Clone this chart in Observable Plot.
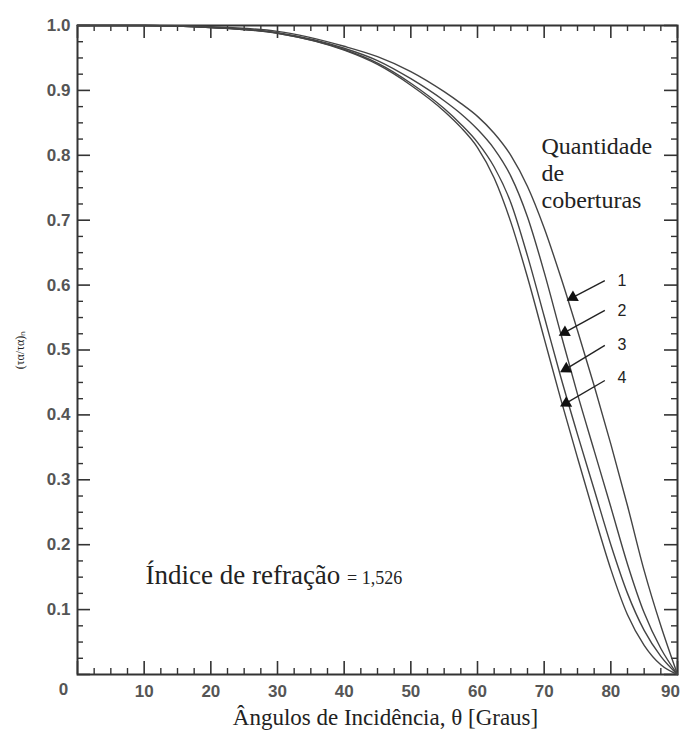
<!DOCTYPE html>
<html>
<head>
<meta charset="utf-8">
<script src="https://cdn.jsdelivr.net/npm/d3@7"></script>
<script src="https://cdn.jsdelivr.net/npm/@observablehq/plot@0.6"></script>
<style>
  body { margin: 0; background: #fff; }
</style>
</head>
<body>
<div id="chart"></div>
<script>
// Angle of incidence (degrees)
const angles = [0, 10, 20, 30, 40, 45, 50, 55, 57.5, 60, 62.5, 65, 67.5, 70, 72.5, 75, 77.5, 80, 82.5, 85, 87.5, 90];
// (τα)/(τα)n for each number of covers
const cover1 = [1.000, 1.000, 0.998, 0.991, 0.968, 0.952, 0.929, 0.898, 0.880, 0.860, 0.834, 0.800, 0.752, 0.688, 0.612, 0.530, 0.445, 0.355, 0.260, 0.160, 0.075, 0.000];
const cover2 = [1.000, 1.000, 0.997, 0.989, 0.965, 0.946, 0.918, 0.884, 0.864, 0.840, 0.810, 0.768, 0.705, 0.620, 0.525, 0.432, 0.345, 0.258, 0.170, 0.095, 0.040, 0.000];
const cover3 = [1.000, 1.000, 0.997, 0.988, 0.963, 0.942, 0.911, 0.872, 0.848, 0.820, 0.782, 0.727, 0.645, 0.552, 0.458, 0.370, 0.285, 0.200, 0.125, 0.068, 0.028, 0.000];
const cover4 = [1.000, 1.000, 0.997, 0.988, 0.962, 0.940, 0.908, 0.868, 0.843, 0.812, 0.765, 0.697, 0.612, 0.518, 0.424, 0.334, 0.246, 0.162, 0.092, 0.045, 0.015, 0.000];

const coverNames = ["1", "2", "3", "4"];
// arrow annotations (data units)
const arrowFromX = [79.1, 79.1, 79.1, 79.1];
const arrowFromY = [0.607, 0.561, 0.507, 0.453];
const arrowToX = [74.3, 73.1, 73.3, 73.3];
const arrowToY = [0.581, 0.527, 0.471, 0.418];
const numLabelX = [81.0, 81.0, 81.0, 81.0];
const numLabelY = [0.606, 0.561, 0.508, 0.457];

const xTickLabels = [10, 20, 30, 40, 50, 60, 70, 80];
const xLastLabel = [90];
const yTickLabels = [0.1, 0.2, 0.3, 0.4, 0.5, 0.6, 0.7, 0.8, 0.9, 1.0];
const xMajor = [0, 10, 20, 30, 40, 50, 60, 70, 80, 90];
const xMinor = d3.range(0, 91, 2.5).filter(d => d % 10 !== 0);
const yMajor = d3.range(0, 11).map(d => d / 10);
const yMinor = d3.range(0, 41).filter(d => d % 4 !== 0).map(d => d / 40);

const xTitle = "Ângulos de Incidência, θ [Graus]";
const yTitle = "(τα/τα)ₙ";
const indexText = "Índice de refração";
const indexValue = "= 1,526";
const legendTitle = "Quantidade\nde\ncoberturas";

const series = [cover1, cover2, cover3, cover4];
const rows = series.flatMap((vals, s) => angles.map((a, i) => ({angle: a, value: vals[i], cover: coverNames[s]})));

const W = 680, H = 734;
const mL = 77, mR = 3, mT = 25, mB = 60;
const pw = W - mL - mR, ph = H - mT - mB;
const majorLen = 13, minorLen = 6;
const tickColor = "#333";
const labelFont = "Liberation Sans, Arial, sans-serif";
const serif = "Liberation Serif, Times New Roman, serif";
const labelStyle = {tickSize: 0, fontSize: 17, fontWeight: "bold", color: "#555", fontFamily: labelFont, label: null};

const chart = Plot.plot({
  width: W,
  height: H,
  marginLeft: mL,
  marginRight: mR,
  marginTop: mT,
  marginBottom: mB,
  x: {domain: [0, 90]},
  y: {domain: [0, 1]},
  style: {background: "#fff"},
  marks: [
    // ticks bottom / top
    Plot.ruleX(xMajor, {insetTop: ph - majorLen, stroke: tickColor, strokeWidth: 1.6}),
    Plot.ruleX(xMinor, {insetTop: ph - minorLen, stroke: tickColor, strokeWidth: 1.4}),
    Plot.ruleX(xMajor, {insetBottom: ph - majorLen, stroke: tickColor, strokeWidth: 1.6}),
    Plot.ruleX(xMinor, {insetBottom: ph - minorLen, stroke: tickColor, strokeWidth: 1.4}),
    // ticks left / right
    Plot.ruleY(yMajor, {insetRight: pw - majorLen, stroke: tickColor, strokeWidth: 1.6}),
    Plot.ruleY(yMinor, {insetRight: pw - minorLen, stroke: tickColor, strokeWidth: 1.4}),
    Plot.ruleY(yMajor, {insetLeft: pw - majorLen, stroke: tickColor, strokeWidth: 1.6}),
    Plot.ruleY(yMinor, {insetLeft: pw - minorLen, stroke: tickColor, strokeWidth: 1.4}),
    Plot.frame({stroke: "#333", strokeWidth: 2}),
    // tick labels
    Plot.axisX(xTickLabels, {...labelStyle, tickPadding: 10}),
    Plot.axisX(xLastLabel, {...labelStyle, tickPadding: 10, dx: -7}),
    Plot.axisX([0], {...labelStyle, tickPadding: 8, dx: -14}),
    Plot.axisY(yTickLabels, {...labelStyle, tickPadding: 7, tickFormat: ".1f"}),
    // curves
    Plot.line(rows, {x: "angle", y: "value", z: "cover", stroke: "#444", strokeWidth: 1.4, curve: "monotone-x"}),
    // arrows
    Plot.link(d3.range(4), {x1: i => arrowFromX[i], y1: i => arrowFromY[i], x2: i => arrowToX[i], y2: i => arrowToY[i], stroke: "#222", strokeWidth: 1.4}),
    Plot.dot(d3.range(4), {x: i => arrowToX[i], y: i => arrowToY[i], symbol: "triangle", r: 4.5, fill: "#111", stroke: "none", rotate: 241}),
    Plot.text(d3.range(4), {x: i => numLabelX[i], y: i => numLabelY[i], text: i => coverNames[i], fontSize: 16, fontFamily: labelFont, fill: "#222", textAnchor: "start"}),
    // annotations
    Plot.text([legendTitle], {x: 69.6, y: 0.831, textAnchor: "start", lineAnchor: "top", lineHeight: 1.12, fontSize: 24, fontFamily: serif, fill: "#222"}),
    Plot.text([indexText + " " + indexValue], {x: 10.2, y: 0.153, textAnchor: "start", fontSize: 27, fontFamily: serif, fill: "#222", className: "index-note"}),
    // axis titles
    Plot.text([xTitle], {frameAnchor: "bottom", dy: 43, dx: 8, fontSize: 23, fontFamily: serif, fill: "#222", textAnchor: "middle", lineAnchor: "middle"}),
    Plot.text([yTitle], {frameAnchor: "left", dx: -57, rotate: -90, fontSize: 12, fontFamily: serif, fill: "#222", textAnchor: "middle", lineAnchor: "middle"})
  ]
});

// make the numeric part of the refraction note smaller (same text element)
d3.select(chart).selectAll("g.index-note text").each(function() {
  const t = d3.select(this);
  t.text(null);
  t.append("tspan").text(indexText + " ");
  t.append("tspan").attr("font-size", 18).text(indexValue);
});

document.getElementById("chart").appendChild(chart);
</script>
</body>
</html>
